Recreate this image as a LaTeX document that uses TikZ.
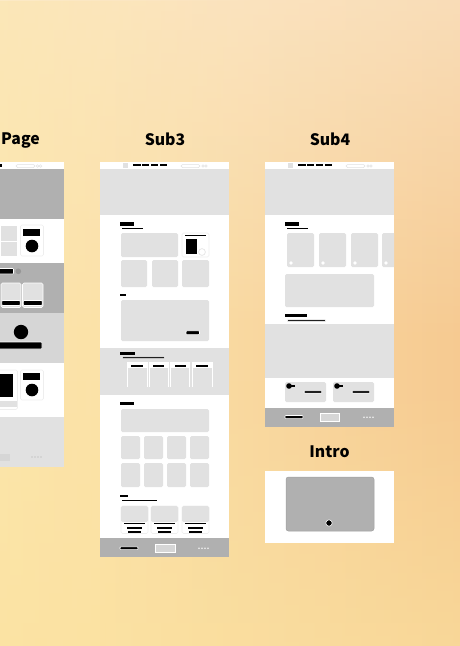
\documentclass[tikz,border=0pt]{standalone}
\usepackage{fontspec}
\newfontfamily\titlefont{Noto Sans CJK SC}
\usetikzlibrary{fadings}
\definecolor{bgL}{RGB}{252,232,178}
\definecolor{bgR}{RGB}{246,202,145}
\definecolor{bgY}{RGB}{251,226,158}
\definecolor{bgP}{RGB}{252,236,215}
\definecolor{wfDark}{RGB}{176,176,176}
\definecolor{wfLight}{RGB}{225,225,225}
\definecolor{wfMid}{RGB}{214,214,214}
\definecolor{wfEdge}{RGB}{238,238,238}
\definecolor{wfDot}{RGB}{200,200,200}
\definecolor{wfRim}{RGB}{160,160,160}
\definecolor{wfKnob}{RGB}{150,150,150}
\tikzset{
  sheet/.style={fill=white},
  dk/.style={fill=wfDark},
  lt/.style={fill=wfLight},
  box/.style={fill=wfLight, rounded corners=1.5pt},
  ink/.style={fill=black},
  inkw/.style={fill=black, draw=white, line width=0.6pt, rounded corners=0.8pt},
  edge/.style={draw=wfEdge, line width=0.6pt, rounded corners=1.5pt},
  pill/.style={draw=wfLight, fill=white, line width=0.5pt, rounded corners=1.5pt},
  dotc/.style={fill=wfDot},
  title/.style={font=\titlefont\bfseries\fontsize{15.8}{19}\selectfont, text=black, inner sep=0pt}
}
% top bar of a page: logo square, four menu items, search pill, two icons
\newcommand\navbar{%
  \fill[lt] (123,163) rectangle (128,168);
  \foreach \a/\b in {133/141,142/149,151/158,160/167}
    \fill[ink] (\a,164) rectangle (\b,166.4);
  \draw[pill] (181,164.5) rectangle (200,167.5);
  \draw[draw=wfLight, line width=0.5pt] (203,166) circle (1.3pt) (206,166) circle (1.3pt);
}
\begin{document}
\begin{tikzpicture}[x=1pt,y=-1pt]
\useasboundingbox (0,0) rectangle (460,646);
% background: warm wash, paler towards the top, yellower at the lower left
\shade[left color=bgL, right color=bgR] (0,0) rectangle (460,646);
\fill[bgP, opacity=0.55, path fading=south] (0,0) rectangle (460,340);
\fill[bgY, opacity=0.55, path fading=north] (0,380) rectangle (460,646);
\fill[bgY, opacity=0.35, path fading=east] (0,0) rectangle (250,646);

% ---------- titles ----------
\node[title] (tPage) at (20.5,140) {Page};
\node[title] (tSub3) at (165,139) {Sub3};
\node[title] (tSub4) at (330,139) {Sub4};
\node[title] (tIntro) at (329.5,452) {Intro};

% ---------- Page ----------
\fill[sheet] (-2,162) rectangle (64,467);
\fill[ink] (-2,164) rectangle (2,166.5);
\draw[pill] (16,164.5) rectangle (35,167.5);
\draw[draw=wfLight, line width=0.5pt] (37.6,166) circle (1.3pt) (40.6,166) circle (1.3pt);
\fill[dk] (-2,169) rectangle (64,219);
\fill[lt] (-8,226) rectangle (0,240.5);
\fill[lt] (0.8,226) rectangle (17,240.5);
\fill[lt] (-8,241.5) rectangle (0,256);
\fill[lt] (0.8,241.5) rectangle (17,256);
\draw[edge] (20.5,225) rectangle (43.5,256);
\fill[ink] (23,229) rectangle (40,235.5);
\fill[ink] (32,246) circle (6.3pt);
\fill[dk] (-2,263) rectangle (64,313);
\fill[inkw] (-4,268.5) rectangle (13.5,274);
\fill[wfKnob] (18.3,271.3) circle (2.8pt);
\foreach \a/\b in {1/21,22.5/43}{
  \draw[box, draw=white, line width=0.6pt] (\a,283) rectangle (\b,307.5);
  \fill[inkw] (\a+0.8,300.5) rectangle (\b-0.8,305.5);
}
\fill[wfMid] (-2,313) rectangle (64,363);
\fill[ink] (21,332) circle (7.2pt);
\fill[inkw] (-4,342) rectangle (42,349);
\draw[edge] (-4,370) rectangle (17.5,409.5);
\fill[ink] (-4,374) rectangle (13,397);
\fill[lt] (-4,401) rectangle (17,407);
\draw[edge] (20.5,370) rectangle (43.5,400);
\fill[ink] (23,373) rectangle (40,380);
\fill[ink] (32,390) circle (6.3pt);
\fill[lt] (-2,417) rectangle (64,467);
\fill[wfMid] (-2,454) rectangle (10,461);
\foreach \x in {32,35,38,41} \fill[dotc] (\x,457) circle (0.8pt);

% ---------- Sub3 ----------
\fill[sheet] (100,162) rectangle (229,557);
\navbar
\fill[lt] (100,169) rectangle (229,215);
\fill[ink] (120,222) rectangle (134,225.5);
\fill[ink] (122,227.8) rectangle (143,229.2);
\fill[box] (121,233) rectangle (178,257);
\draw[edge] (182,233) rectangle (209,257);
\fill[ink] (185,234.8) rectangle (206,236.2);
\fill[ink] (186,239) rectangle (197,253.5);
\draw[draw=wfLight, line width=0.6pt] (202,252) circle (3.4pt);
\foreach \a/\b in {121/147,152/178,182/209} \fill[box] (\a,260) rectangle (\b,287);
\fill[ink] (120,293.5) rectangle (125.5,296.2);
\fill[box] (121,300) rectangle (209,341);
\fill[inkw] (186,330.8) rectangle (199.5,334.6);
\fill[lt] (100,348) rectangle (229,395);
\fill[ink] (120,352) rectangle (135,355);
\fill[inkw] (122,356.8) rectangle (165,358.6);
\foreach \a/\b in {127/147,149/168,170.5/189.5,192/212}{
  \fill[white] (\a,362) rectangle (\b,367.6);
  \draw[white, line width=0.6pt] (\a,362) -- (\a,387) (\b,362) -- (\b,387);
  \fill[ink] (\a+4,365) rectangle (\b-4,366.6);
}
\fill[ink] (120,402) rectangle (134,405);
\fill[box] (121,409) rectangle (209,432);
\foreach \a/\b in {121/140,144/163,167/186,190/209}{
  \fill[box] (\a,436) rectangle (\b,459);
  \fill[box] (\a,463) rectangle (\b,487);
}
\fill[ink] (120,494.5) rectangle (128,497.3);
\fill[ink] (122,499.8) rectangle (157,501.2);
\foreach \a/\b in {121/148,151/178,182/209}{
  \draw[edge] (\a,506) rectangle (\b,533.5);
  \fill[lt, rounded corners=1.5pt] (\a,506) rectangle (\b,522);
  \fill[ink] (\a+3,522.8) rectangle (\b-3,524.4);
  \fill[ink] (\a+6,527) rectangle (\b-6,528.6);
  \fill[ink] (\a+7,531) rectangle (\b-7,532.6);
}
\fill[dk] (100,538) rectangle (229,557);
\fill[inkw] (120,546.8) rectangle (138,549.6);
\fill[wfMid, draw=white, line width=0.4pt] (155,544) rectangle (175,552);
\foreach \x in {199,202,205,208} \fill[white!85!wfDark] (\x,548.2) circle (0.8pt);

% ---------- Sub4 ----------
\fill[sheet] (265,162) rectangle (394,427);
\begin{scope}[xshift=165pt]\navbar\end{scope}
\fill[lt] (265,169) rectangle (394,215);
\fill[ink] (285,222) rectangle (299,225.5);
\fill[ink] (287,227.8) rectangle (308,229.2);
\begin{scope}
  \clip (265,162) rectangle (394,427);
  \foreach \a/\b in {287/314,319/346,351/378,382/400}{
    \fill[box] (\a,233) rectangle (\b,267);
    \fill[white] (\a+4,263) circle (1.8pt);
  }
\end{scope}
\fill[box] (285,274) rectangle (374,307);
\fill[ink] (285,313.5) rectangle (307,317);
\fill[inkw] (287,319.8) rectangle (326,321.4);
\fill[lt] (265,324) rectangle (394,378);
\foreach \a/\b in {285/326,333/374}{
  \fill[box] (\a,382) rectangle (\b,402);
  \fill[ink] (\a+4,386) circle (2.8pt);
  \fill[ink] (\a+6,385.4) rectangle (\a+10,386.8);
  \fill[inkw] (\b-22,390.8) rectangle (\b-4,393.2);
}
\fill[dk] (265,408) rectangle (394,427);
\fill[inkw] (285,415.5) rectangle (303,418.6);
\fill[wfMid, draw=white, line width=0.4pt] (320,413) rectangle (339,421.5);
\foreach \x in {364,367,370,373} \fill[white!85!wfDark] (\x,417.2) circle (0.8pt);

% ---------- Intro ----------
\fill[sheet] (265,471) rectangle (394,543);
\draw[fill=wfDark, draw=wfRim, line width=0.5pt, rounded corners=2.5pt] (286,477) rectangle (374,531);
\fill[black, draw=white, line width=0.6pt] (329,523) circle (3.2pt);
\end{tikzpicture}
\end{document}
